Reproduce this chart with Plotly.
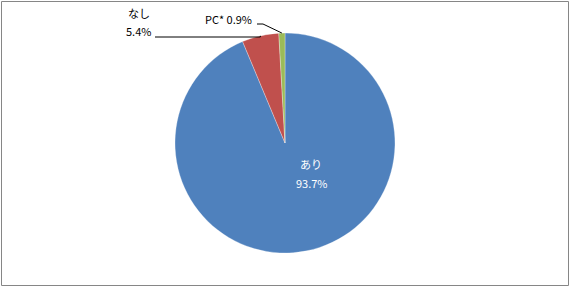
import math
import plotly.graph_objects as go

labels = ["あり", "なし", "PC*"]
values = [93.7, 5.4, 0.9]
colors = ["#4F81BD", "#C0504D", "#9BBB59"]

W, H = 570, 287
cx, cy, R = 285, 143, 110

def px(x):
    return x / W

def py(y):
    return 1 - y / H

fig = go.Figure(go.Pie(
    labels=labels, values=values, sort=False, direction="clockwise", rotation=0,
    marker=dict(colors=colors, line=dict(color="white", width=0.3)),
    textinfo="none", hoverinfo="label+percent", showlegend=False,
    domain=dict(x=[px(cx - R), px(cx + R)], y=[py(cy + R), py(cy - R)]),
))

total = sum(values)
cum = 0
edge = []
for v in values:
    mid = (cum + v / 2) / total * 2 * math.pi
    edge.append((cx + R * math.sin(mid), cy - R * math.cos(mid)))
    cum += v

fam = "Noto Sans CJK JP, sans-serif"
font = dict(family=fam, size=11, color="black")
wfont = dict(family=fam, size=11, color="white")
pct = [f"{v:.1f}%" for v in values]

def ann(x, y, text, f, xanchor):
    return dict(x=px(x), y=py(y), xref="paper", yref="paper", showarrow=False,
                text=text, font=f, xanchor=xanchor, yanchor="middle")

annotations = [
    ann(311, 164, labels[0], wfont, "center"),
    ann(312, 183, pct[0], wfont, "center"),
    ann(126, 13, labels[1], font, "left"),
    ann(124, 31, pct[1], font, "left"),
    ann(254, 19, f"{labels[2]} {pct[2]}", font, "right"),
]

ex1, ey1 = edge[1]
ex2, ey2 = edge[2]
shapes = [
    dict(type="path", xref="paper", yref="paper",
         path=f"M {px(155)} {py(37)} L {px(ex1)} {py(37)} L {px(ex1)} {py(ey1)}",
         line=dict(color="black", width=1)),
    dict(type="path", xref="paper", yref="paper",
         path=f"M {px(257)} {py(24)} L {px(263)} {py(24)} L {px(ex2)} {py(ey2)}",
         line=dict(color="black", width=1)),
    dict(type="rect", xref="paper", yref="paper",
         x0=px(1.5), y0=py(285.5), x1=px(568.5), y1=py(1.5),
         line=dict(color="#868686", width=1)),
]

fig.update_layout(
    width=W, height=H, margin=dict(l=0, r=0, t=0, b=0),
    paper_bgcolor="white", plot_bgcolor="white",
    annotations=annotations, shapes=shapes,
)

fig.write_html("out.html")
